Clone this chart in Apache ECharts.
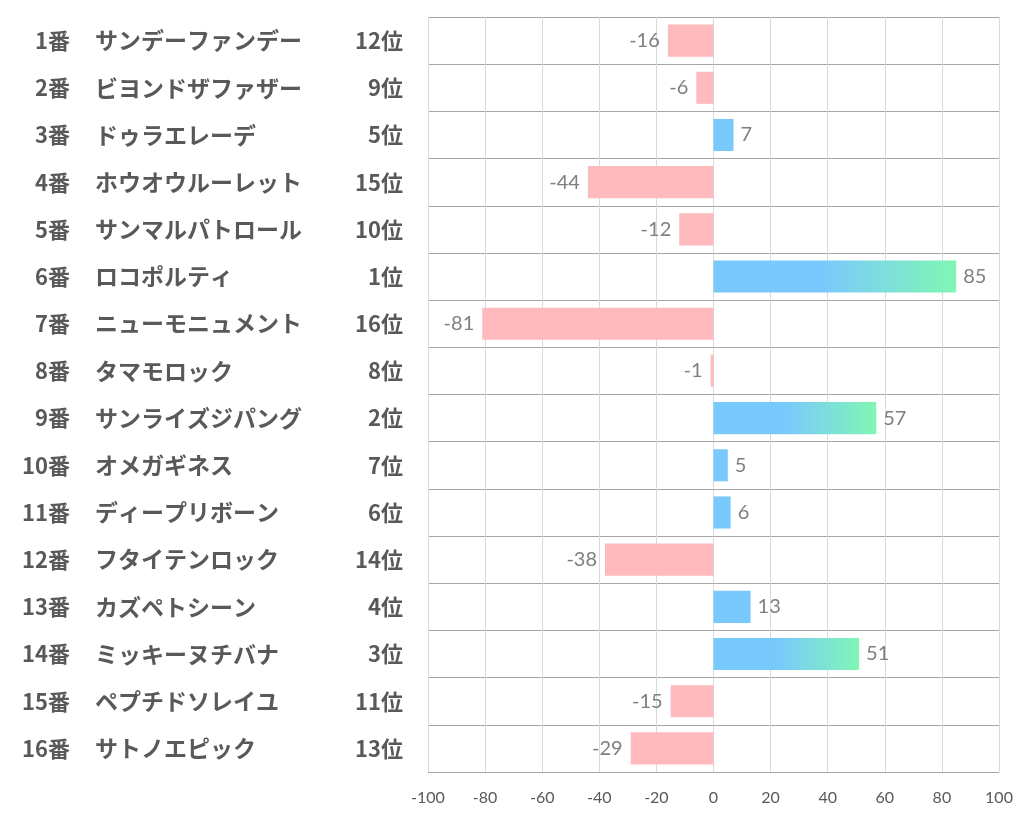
<!DOCTYPE html>
<html>
<head>
<meta charset="utf-8">
<script src="https://cdn.jsdelivr.net/npm/echarts@6/dist/echarts.min.js"></script>
<style>html,body{margin:0;padding:0;background:#fff;}#c{width:1022px;height:834px;}</style>
</head>
<body>
<div id="c"></div>
<script>
const numbers = ['1番','2番','3番','4番','5番','6番','7番','8番','9番','10番','11番','12番','13番','14番','15番','16番'];
const names = ['サンデーファンデー','ビヨンドザファザー','ドゥラエレーデ','ホウオウルーレット','サンマルパトロール','ロコポルティ','ニューモニュメント','タマモロック','サンライズジパング','オメガギネス','ディープリボーン','フタイテンロック','カズペトシーン','ミッキーヌチバナ','ペプチドソレイユ','サトノエピック'];
const ranks = ['12位','9位','5位','15位','10位','1位','16位','8位','2位','7位','6位','14位','4位','3位','11位','13位'];
const values = [-16,-6,7,-44,-12,85,-81,-1,57,5,6,-38,13,51,-15,-29];
const xTicks = {min:-100, max:100, interval:20};

const chart = echarts.init(document.getElementById('c'));
const labelFont = '"Noto Sans CJK JP", sans-serif';
const numFont = 'Lato, "Noto Sans", sans-serif';
const leftColor = '#595959';
const pink = '#ffbabd', blue = '#7ac9fc', green = '#80f7b4';

function catAxis(data, opts) {
  return Object.assign({
    type: 'category', data: data, inverse: true, position: 'left', offset: 0,
    axisLine: {show: false}, axisTick: {show: false}, splitLine: {show: false}
  }, opts);
}

chart.setOption({
  animation: false,
  grid: {left: 428, right: 23, top: 17, bottom: 62, containLabel: false, outerBoundsMode: 'none'},
  xAxis: {
    type: 'value', min: xTicks.min, max: xTicks.max, interval: xTicks.interval,
    axisLine: {show: false},
    axisTick: {show: false},
    splitLine: {show: true, lineStyle: {color: '#d9d9d9', width: 1}},
    axisLabel: {color: leftColor, fontSize: 16, fontFamily: numFont, margin: 18}
  },
  yAxis: [
    catAxis(ranks, {
      axisTick: {show: true, length: 4, lineStyle: {color: '#a6a6a6'}},
      splitLine: {show: true, lineStyle: {color: '#a6a6a6', width: 1}},
      axisLabel: {color: leftColor, fontSize: 22, fontWeight: 'bold', fontFamily: labelFont, margin: 25, align: 'right'}
    }),
    catAxis(names, {
      axisLabel: {color: leftColor, fontSize: 23, fontWeight: 'bold', fontFamily: labelFont, margin: 333, align: 'left'}
    }),
    catAxis(numbers, {
      axisLabel: {color: leftColor, fontSize: 22, fontWeight: 'bold', fontFamily: labelFont, margin: 358, align: 'right'}
    })
  ],
  series: [{
    type: 'bar',
    yAxisIndex: 0,
    data: values.map(function (v) {
      return v < 0 ? {value: v, label: {position: 'left', distance: 8}} : {value: v};
    }),
    barCategoryGap: '32%',
    itemStyle: {
      color: function (p) {
        const v = p.value;
        if (v < 0) return pink;
        if (v >= 50) {
          return new echarts.graphic.LinearGradient(0, 0, 1, 0, [
            {offset: 0, color: blue}, {offset: 0.45, color: blue}, {offset: 1, color: green}
          ]);
        }
        return blue;
      }
    },
    label: {
      show: true,
      color: '#7f7f7f', fontSize: 20, fontFamily: numFont, distance: 7,
      position: 'right',
      formatter: function (p) { return String(p.value); }
    }
  }]
});
</script>
</body>
</html>
